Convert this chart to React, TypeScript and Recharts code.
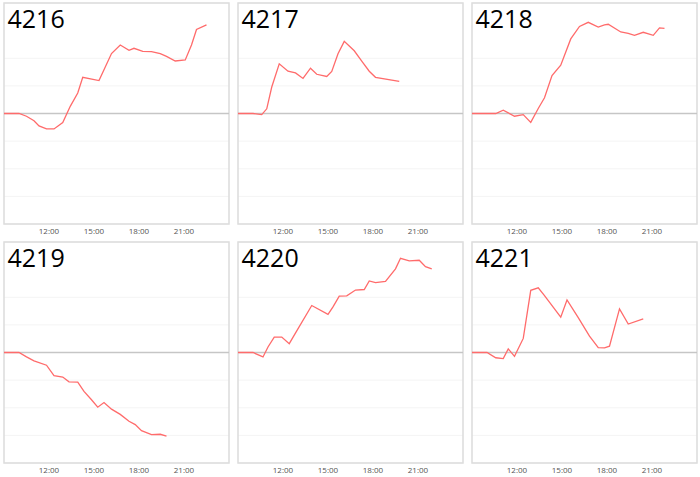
import React from "react";
import {
  LineChart,
  Line,
  XAxis,
  YAxis,
  CartesianGrid,
  ReferenceLine,
  ReferenceArea,
} from "recharts";

const titles = ["4216", "4217", "4218", "4219", "4220", "4221"];

const t4216 = ["9:00", "10:00", "10:30", "11:00", "11:20", "11:50", "12:20", "12:55", "13:25", "13:55", "14:15", "15:20", "16:10", "16:45", "17:20", "17:40", "18:15", "18:50", "19:25", "19:50", "20:25", "21:05", "21:30", "21:50", "22:30"];
const v4216 = [0, 0, -0.1, -0.26, -0.45, -0.56, -0.56, -0.33, 0.26, 0.74, 1.31, 1.19, 2.17, 2.48, 2.29, 2.36, 2.25, 2.24, 2.17, 2.07, 1.9, 1.94, 2.48, 3.04, 3.21];

const t4217 = ["9:00", "10:00", "10:35", "10:55", "11:15", "11:45", "12:20", "12:50", "13:20", "13:50", "14:15", "14:55", "15:15", "15:40", "16:05", "16:45", "17:15", "17:45", "18:10", "19:45"];
const v4217 = [0, 0, -0.04, 0.17, 0.96, 1.8, 1.53, 1.47, 1.27, 1.64, 1.42, 1.34, 1.52, 2.16, 2.61, 2.27, 1.9, 1.53, 1.31, 1.16];

const t4218 = ["9:00", "10:35", "11:05", "11:50", "12:25", "12:55", "13:25", "13:50", "14:20", "14:55", "15:35", "16:10", "16:45", "17:25", "17:50", "18:05", "18:55", "19:25", "19:50", "20:25", "21:05", "21:30", "21:50"];
const v4218 = [0, 0, 0.12, -0.1, -0.04, -0.32, 0.18, 0.57, 1.37, 1.75, 2.7, 3.15, 3.3, 3.13, 3.21, 3.23, 2.95, 2.9, 2.83, 2.94, 2.83, 3.1, 3.08];

const t4219 = ["9:00", "10:00", "10:30", "11:00", "11:50", "12:20", "12:55", "13:20", "13:55", "14:20", "14:50", "15:15", "15:40", "16:10", "16:45", "17:20", "17:45", "18:10", "18:50", "19:25", "19:50"];
const v4219 = [0, 0, -0.16, -0.3, -0.46, -0.84, -0.89, -1.06, -1.07, -1.41, -1.71, -1.98, -1.81, -2.05, -2.24, -2.49, -2.61, -2.83, -2.97, -2.96, -3.03];

const t4220 = ["9:00", "10:00", "10:40", "11:00", "11:25", "11:55", "12:25", "12:55", "13:55", "15:00", "15:20", "15:45", "16:15", "16:50", "17:25", "17:45", "18:10", "18:50", "19:30", "19:50", "20:25", "21:05", "21:30", "21:55"];
const v4220 = [0, 0, -0.16, 0.2, 0.56, 0.56, 0.32, 0.78, 1.7, 1.38, 1.65, 2.04, 2.05, 2.26, 2.28, 2.59, 2.53, 2.57, 3.03, 3.41, 3.32, 3.34, 3.11, 3.03];

const t4221 = ["9:00", "10:00", "10:35", "11:05", "11:25", "11:50", "12:25", "12:55", "13:25", "13:50", "14:55", "15:20", "16:05", "16:50", "17:25", "17:50", "18:10", "18:50", "19:25", "20:25"];
const v4221 = [0, 0, -0.19, -0.22, 0.13, -0.14, 0.51, 2.25, 2.34, 2.06, 1.28, 1.9, 1.26, 0.59, 0.18, 0.17, 0.23, 1.58, 1.03, 1.22];

const xTicks = ["12:00", "15:00", "18:00", "21:00"];
const yTicks = [-4, -3, -2, -1, 0, 1, 2, 3, 4];

const toMin = (s: string) => {
  const [h, m] = s.split(":").map(Number);
  return h * 60 + m;
};
const fmt = (v: number) => `${Math.floor(v / 60)}:00`;

const series = [
  [t4216, v4216],
  [t4217, v4217],
  [t4218, v4218],
  [t4219, v4219],
  [t4220, v4220],
  [t4221, v4221],
];

const PW = 225;
const PH = 221;

function Panel({ title, times, values, left, top }: any) {
  const data = times.map((t: string, i: number) => ({ t: toMin(t), v: values[i] }));
  return (
    <div style={{ position: "absolute", left: left - 2, top: top - 2 }}>
      <LineChart
        width={PW + 4}
        height={PH + 2 + 14}
        data={data}
        margin={{ top: 2, right: 2, left: 2, bottom: 0 }}
      >
        <CartesianGrid vertical={false} stroke="#f4f4f4" strokeWidth={1} />
        <XAxis
          dataKey="t"
          type="number"
          domain={[540, 1440]}
          ticks={xTicks.map(toMin)}
          tickFormatter={fmt}
          height={14}
          axisLine={false}
          tickLine={false}
          tickSize={2}
          tickMargin={2}
          tick={{ fontSize: 8, fill: "#555", fontFamily: "Open Sans" }}
          interval={0}
        />
        <YAxis hide domain={[-4, 4]} ticks={yTicks} />
        <ReferenceArea
          x1={540}
          x2={1440}
          y1={-4}
          y2={4}
          fill="none"
          fillOpacity={0}
          stroke="#dcdcdc"
          strokeWidth={1.5}
        />
        <ReferenceLine y={0} stroke="#c6c6c6" strokeWidth={1.5} />
        <Line
          type="linear"
          dataKey="v"
          stroke="#ff6b6b"
          strokeWidth={1.3}
          dot={false}
          isAnimationActive={false}
        />
      </LineChart>
      <div
        style={{
          position: "absolute",
          left: 5.5,
          top: 3.5,
          fontFamily: "Open Sans",
          fontSize: 25,
          lineHeight: "26px",
          color: "#000",
        }}
      >
        {title}
      </div>
    </div>
  );
}

export default function App() {
  return (
    <div
      style={{
        position: "absolute",
        left: 0,
        top: 0,
        width: 700,
        height: 477,
        background: "#fff",
      }}
    >
      {titles.map((title, i) => (
        <Panel
          key={title}
          title={title}
          times={series[i][0]}
          values={series[i][1]}
          left={4 + (i % 3) * 234}
          top={3 + Math.floor(i / 3) * 239}
        />
      ))}
    </div>
  );
}
